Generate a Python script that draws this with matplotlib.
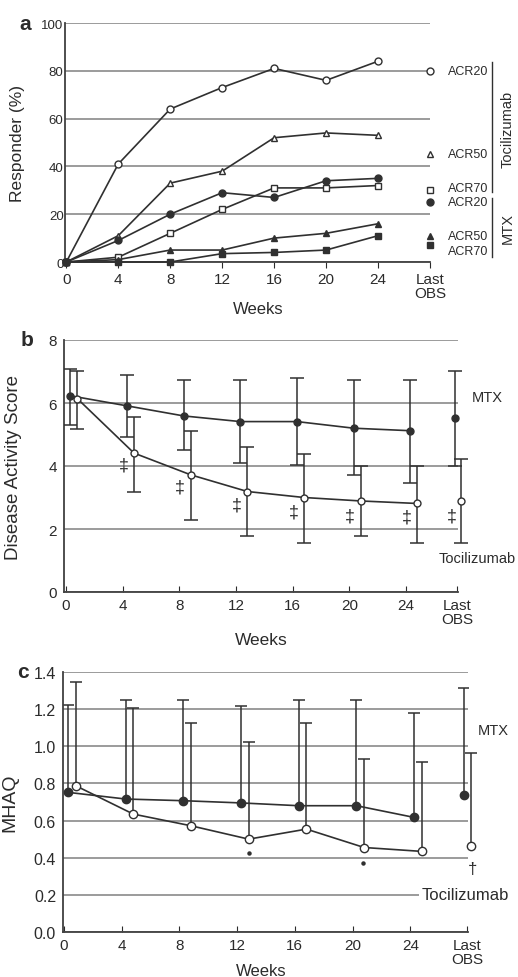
import numpy as np
import matplotlib.pyplot as plt

plt.rcParams['font.family'] = ['Liberation Sans', 'DejaVu Sans']
plt.rcParams['text.color'] = '#2b2b2b'
plt.rcParams['axes.labelcolor'] = '#2b2b2b'
plt.rcParams['xtick.color'] = '#2b2b2b'
plt.rcParams['ytick.color'] = '#2b2b2b'

weeks = [0, 4, 8, 12, 16, 20, 24]
tick_labels = ['0', '4', '8', '12', '16', '20', '24', 'Last\nOBS']

# panel a: responder rates (%)
toc_acr20 = [0, 41, 64, 73, 81, 76, 84]
toc_acr50 = [0, 11, 33, 38, 52, 54, 53]
toc_acr70 = [0, 2, 12, 22, 31, 31, 32]
mtx_acr20 = [0, 9, 20, 29, 27, 34, 35]
mtx_acr50 = [0, 1, 5, 5, 10, 12, 16]
mtx_acr70 = [0, 0, 0, 3.5, 4, 5, 11]
last_toc_a = [80, 45, 30]
last_mtx_a = [25, 11, 7]
acr_names = ['ACR20', 'ACR50', 'ACR70']

# panel b: DAS28
mtx_das = [6.23, 5.91, 5.59, 5.41, 5.41, 5.20, 5.12]
mtx_das_hi = [7.08, 6.89, 6.73, 6.73, 6.79, 6.73, 6.73]
mtx_das_lo = [5.30, 4.93, 4.50, 4.09, 4.04, 3.71, 3.47]
toc_das = [6.14, 4.41, 3.72, 3.19, 3.00, 2.89, 2.81]
toc_das_hi = [7.02, 5.57, 5.11, 4.61, 4.38, 4.00, 4.00]
toc_das_lo = [5.17, 3.18, 2.28, 1.78, 1.57, 1.78, 1.57]
last_mtx_das = [5.52, 7.02, 4.00]   # mean, hi, lo
last_toc_das = [2.89, 4.22, 1.57]
sig_das = [4.04, 3.32, 2.76, 2.55, 2.41, 2.39, 2.41]

# panel c: MHAQ
mtx_mhaq = [0.752, 0.716, 0.707, 0.695, 0.68, 0.68, 0.617]
mtx_mhaq_hi = [1.22, 1.25, 1.25, 1.215, 1.247, 1.247, 1.18]
toc_mhaq = [0.788, 0.635, 0.572, 0.50, 0.554, 0.455, 0.434]
toc_mhaq_hi = [1.346, 1.206, 1.127, 1.022, 1.127, 0.929, 0.918]
last_mtx_mhaq = [0.74, 1.315]
last_toc_mhaq = [0.464, 0.965]

LC = '#303030'
GC = '#8a8a8a'
W = 518
H = 978

fig = plt.figure(figsize=(5.18, 9.78), dpi=100)


def make_ax(l, r, t, b):
    ax = fig.add_axes([l / W, 1 - b / H, (r - l) / W, (b - t) / H])
    for s in ['top', 'right']:
        ax.spines[s].set_visible(False)
    for s in ['left', 'bottom']:
        ax.spines[s].set_color('#404040')
        ax.spines[s].set_linewidth(1.3)
    ax.yaxis.grid(True, color=GC, linewidth=1.2)
    ax.set_axisbelow(True)
    ax.tick_params(axis='y', length=0)
    return ax


# ---------------- a ----------------
ax = make_ax(65, 430, 24, 263)
wk = np.array(weeks)
last_a = 28.0
for vals, mk, fc in [(toc_acr20, 'o', 'white'), (toc_acr50, '^', 'white'),
                     (toc_acr70, 's', 'white'), (mtx_acr20, 'o', LC),
                     (mtx_acr50, '^', LC), (mtx_acr70, 's', LC)]:
    ax.plot(wk, vals, color=LC, lw=1.2, marker=mk, ms=5, mfc=fc, mec=LC,
            mew=1.0, clip_on=False, zorder=3)
for i, v in enumerate(last_toc_a):
    ax.plot(last_a, v, marker=['o', '^', 's'][i], ms=5, mfc='white', mec=LC,
            mew=1.0, clip_on=False)
    ax.text(29.4, v + (1 if i == 2 else 0), acr_names[i], fontsize=9, va='center', ha='left')
for i, v in enumerate(last_mtx_a):
    ax.plot(last_a, v, marker=['o', '^', 's'][i], ms=5, color=LC, clip_on=False)
    ax.text(29.4, v - (2.5 if i == 2 else 0), acr_names[i], fontsize=9, va='center', ha='left')
ax.plot([32.8, 32.8], [83.7, 29.3], color=LC, lw=1, clip_on=False)
ax.plot([32.8, 32.8], [26.9, 2.1], color=LC, lw=1, clip_on=False)
ax.text(34.0, 56, 'Tocilizumab', rotation=90, fontsize=10.5, ha='center', va='center')
ax.text(34.0, 14.5, 'MTX', rotation=90, fontsize=10.5, ha='center', va='center')
ax.set_xlim(-0.1, 28.0)
ax.set_ylim(0, 100)
ax.set_yticks([0, 20, 40, 60, 80, 100])
ax.set_xticks(weeks + [last_a])
ax.set_xticklabels(tick_labels, fontsize=11, linespacing=1.0)
ax.tick_params(axis='x', direction='out', length=4, pad=3)
ax.tick_params(axis='y', labelsize=9.5, pad=1)
ax.set_ylabel('Responder (%)', fontsize=12.5)
ax.yaxis.set_label_coords(-0.11, 0.5)
ax.set_xlabel('Weeks', fontsize=12)
ax.xaxis.set_label_coords(0.53, -0.165)
fig.text(25 / W, 1 - 24 / H, 'a', fontsize=15, fontweight='bold', ha='center', va='center')

# ---------------- b ----------------
ax = make_ax(64, 458, 341, 593)
last_b = 27.6
xm = wk + 0.3
xt = wk + 0.8
ax.errorbar(xm, mtx_das, yerr=[np.array(mtx_das) - mtx_das_lo, np.array(mtx_das_hi) - mtx_das],
            fmt='-o', color=LC, lw=1.2, ms=5, capsize=5, elinewidth=1.1, capthick=1.1, zorder=3)
ax.errorbar(xt, toc_das, yerr=[np.array(toc_das) - toc_das_lo, np.array(toc_das_hi) - toc_das],
            fmt='-o', color=LC, mfc='white', mec=LC, lw=1.2, ms=5, capsize=5,
            elinewidth=1.1, capthick=1.1, zorder=3)
ax.errorbar([last_b - 0.15], [last_mtx_das[0]],
            yerr=[[last_mtx_das[0] - last_mtx_das[2]], [last_mtx_das[1] - last_mtx_das[0]]],
            fmt='o', color=LC, ms=5, capsize=5, elinewidth=1.1, capthick=1.1, clip_on=False)
ax.errorbar([last_b + 0.3], [last_toc_das[0]],
            yerr=[[last_toc_das[0] - last_toc_das[2]], [last_toc_das[1] - last_toc_das[0]]],
            fmt='o', color=LC, mfc='white', ms=5, capsize=5, elinewidth=1.1, capthick=1.1,
            clip_on=False)
sig_x = [w + 0.05 for w in weeks[1:]] + [last_b - 0.35]
for x, y in zip(sig_x, sig_das):
    ax.text(x, y, '\u2021', fontsize=13, ha='center', va='center')
ax.text(29.7, 6.18, 'MTX', fontsize=10.5, ha='center', va='center')
ax.text(29.0, 1.09, 'Tocilizumab', fontsize=10.5, ha='center', va='center')
ax.set_xlim(-0.14, 27.66)
ax.set_ylim(0, 8)
ax.set_yticks([0, 2, 4, 6, 8])
ax.set_xticks(weeks + [last_b])
ax.set_xticklabels(tick_labels, fontsize=11, linespacing=1.0)
ax.tick_params(axis='x', direction='in', length=4, pad=4)
ax.tick_params(axis='y', labelsize=11, pad=5)
ax.set_ylabel('Disease Activity Score', fontsize=13.5)
ax.yaxis.set_label_coords(-0.107, 0.5)
ax.set_xlabel('Weeks', fontsize=12.5)
ax.xaxis.set_label_coords(0.5, -0.16)
fig.text(27 / W, 1 - 341 / H, 'b', fontsize=15, fontweight='bold', ha='center', va='center')

# ---------------- c ----------------
ax = make_ax(63, 468, 673, 933)
last_c = 27.95
xm = wk + 0.27
xt = wk + 0.8
ax.vlines(xm, mtx_mhaq, mtx_mhaq_hi, color=LC, lw=1.1)
ax.vlines(xt, toc_mhaq, toc_mhaq_hi, color=LC, lw=1.1)
ax.plot(xm, mtx_mhaq_hi, ls='none', marker='_', ms=8, mew=1.1, color=LC)
ax.plot(xt, toc_mhaq_hi, ls='none', marker='_', ms=8, mew=1.1, color=LC)
ax.plot(xm, mtx_mhaq, '-o', color=LC, lw=1.2, ms=6, zorder=3)
ax.plot(xt, toc_mhaq, '-o', color=LC, mfc='white', lw=1.2, ms=6, zorder=3)
ax.vlines([last_c - 0.25], [last_mtx_mhaq[0]], [last_mtx_mhaq[1]], color=LC, lw=1.1)
ax.vlines([last_c + 0.25], [last_toc_mhaq[0]], [last_toc_mhaq[1]], color=LC, lw=1.1, clip_on=False)
ax.plot([last_c - 0.25], [last_mtx_mhaq[1]], marker='_', ms=8, mew=1.1, color=LC)
ax.plot([last_c + 0.25], [last_toc_mhaq[1]], marker='_', ms=8, mew=1.1, color=LC, clip_on=False)
ax.plot([last_c - 0.25], [last_mtx_mhaq[0]], 'o', color=LC, ms=6, clip_on=False, zorder=3)
ax.plot([last_c + 0.25], [last_toc_mhaq[0]], 'o', color=LC, mfc='white', ms=6,
        clip_on=False, zorder=3)
ax.plot([12.8, 20.75], [0.423, 0.369], ls='none', marker='o', ms=2.2, color=LC)
ax.text(28.3, 0.34, '\u2020', fontsize=12, ha='center', va='center')
ax.text(29.75, 1.09, 'MTX', fontsize=10.5, ha='center', va='center')
ax.text(27.8, 0.2, 'Tocilizumab', fontsize=12, ha='center', va='center',
        bbox=dict(facecolor='white', edgecolor='none', pad=1.5), clip_on=False)
ax.set_xlim(-0.07, 28.0)
ax.set_ylim(0, 1.4)
ax.set_yticks(np.arange(0, 1.41, 0.2))
ax.set_yticklabels(['0.0', '0.2', '0.4', '0.6', '0.8', '1.0', '1.2', '1.4'])
ax.set_xticks(weeks + [last_c])
ax.set_xticklabels(tick_labels, fontsize=11, linespacing=1.0)
ax.tick_params(axis='x', direction='in', length=4, pad=4)
ax.tick_params(axis='y', labelsize=11.5, pad=5)
ax.set_ylabel('MHAQ', fontsize=14)
ax.yaxis.set_label_coords(-0.111, 0.5)
ax.text(0.49, -0.118, 'Weeks', transform=ax.transAxes, fontsize=12, ha='center', va='top')
fig.text(23 / W, 1 - 673 / H, 'c', fontsize=15, fontweight='bold', ha='center', va='center')

fig.savefig('out.png', dpi=100)
